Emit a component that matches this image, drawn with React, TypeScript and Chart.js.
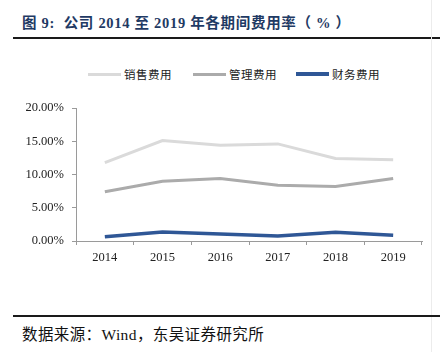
import React, { useEffect, useRef } from "react";
import { Chart, registerables } from "chart.js";

Chart.register(...registerables);

const years = ["2014", "2015", "2016", "2017", "2018", "2019"];
const seriesNames = ["销售费用", "管理费用", "财务费用"];
const salesRate = [11.8, 15.1, 14.4, 14.6, 12.4, 12.2];
const adminRate = [7.4, 9.0, 9.4, 8.4, 8.2, 9.4];
const financeRate = [0.65, 1.35, 1.05, 0.75, 1.3, 0.85];
const seriesColors = ["#dadada", "#ababab", "#2f5796"];
const yTicks = [0, 5, 10, 15, 20];

const serif = '"Liberation Serif", "Times New Roman", "Noto Sans CJK SC", serif';
const cjk = '"Liberation Serif", "Noto Sans CJK SC", serif';

export default function App() {
  const ref = useRef<HTMLCanvasElement | null>(null);

  useEffect(() => {
    if (!ref.current) return;
    const values = [salesRate, adminRate, financeRate];
    const chart = new Chart(ref.current, {
      type: "line",
      data: {
        labels: years,
        datasets: seriesNames.map((n, i) => ({
          label: n,
          data: values[i],
          borderColor: seriesColors[i],
          backgroundColor: seriesColors[i],
          borderWidth: i === 2 ? 3.5 : 3,
          pointRadius: 0,
          tension: 0,
        })),
      },
      options: {
        animation: false,
        responsive: false,
        maintainAspectRatio: false,
        layout: { padding: { top: 18, right: 25, bottom: 7, left: 0 } },
        plugins: { legend: { display: false }, tooltip: { enabled: false } },
        scales: {
          x: {
            offset: true,
            grid: {
              display: true,
              drawOnChartArea: false,
              drawTicks: true,
              tickLength: 4,
              color: "#9a9a9a",
              offset: true,
            },
            border: { color: "#9a9a9a", width: 1 },
            ticks: {
              padding: 5,
              color: "#222",
              font: { family: serif, size: 12.5 },
              maxRotation: 0,
            },
            afterFit: (s: any) => {
              s.height = 22;
            },
          },
          y: {
            min: yTicks[0],
            max: yTicks[yTicks.length - 1],
            afterBuildTicks: (s: any) => {
              s.ticks = yTicks.map((v) => ({ value: v }));
            },
            grid: {
              display: true,
              drawOnChartArea: false,
              drawTicks: true,
              tickLength: 4,
              color: "#9a9a9a",
            },
            border: { color: "#9a9a9a", width: 1 },
            ticks: {
              padding: 8,
              color: "#222",
              font: { family: serif, size: 12.5 },
              callback: (v: any) => Number(v).toFixed(2) + "%",
            },
            afterFit: (s: any) => {
              s.width = 76;
            },
          },
        },
      },
    });
    return () => chart.destroy();
  }, []);

  const legendX = [88, 193, 296];

  return (
    <div
      style={{
        position: "fixed",
        left: 0,
        top: 0,
        width: 447,
        height: 352,
        background: "#fff",
        overflow: "hidden",
      }}
    >
      <div
        style={{
          position: "absolute",
          left: 22,
          top: 13,
          fontFamily: cjk,
          fontWeight: "bold",
          fontSize: 14.5,
          color: "#1f3a64",
          whiteSpace: "pre",
          lineHeight: "20px",
          letterSpacing: 0.7,
        }}
      >
        {"图 9:  公司 2014 至 2019 年各期间费用率（ % ）"}
      </div>
      <div
        style={{
          position: "absolute",
          left: 13,
          top: 37,
          width: 427,
          height: 2,
          background: "#1a1a1a",
        }}
      />
      <div
        style={{
          position: "absolute",
          left: 431,
          top: 0,
          width: 1,
          height: 352,
          background: "#ececec",
        }}
      />
      {seriesNames.map((n, i) => (
        <div
          key={n}
          style={{
            position: "absolute",
            left: legendX[i],
            top: 66,
            height: 16,
            display: "flex",
            alignItems: "center",
            whiteSpace: "nowrap",
          }}
        >
          <div
            style={{
              width: 33,
              height: i === 2 ? 3.5 : 3,
              background: seriesColors[i],
              marginRight: 3,
            }}
          />
          <span
            style={{
              fontFamily: cjk,
              fontSize: 11.5,
              color: "#222",
              letterSpacing: 0.5,
            }}
          >
            {n}
          </span>
        </div>
      ))}
      <canvas
        ref={ref}
        width={447}
        height={180}
        style={{ position: "absolute", left: 0, top: 90, width: 447, height: 180 }}
      />
      <div
        style={{
          position: "absolute",
          left: 13,
          top: 315,
          width: 427,
          height: 1.5,
          background: "#1a1a1a",
        }}
      />
      <div
        style={{
          position: "absolute",
          left: 22,
          top: 325,
          fontFamily: cjk,
          fontSize: 15.5,
          color: "#111",
          whiteSpace: "nowrap",
          lineHeight: "20px",
          letterSpacing: 0.4,
        }}
      >
        数据来源：Wind，东吴证券研究所
      </div>
    </div>
  );
}
